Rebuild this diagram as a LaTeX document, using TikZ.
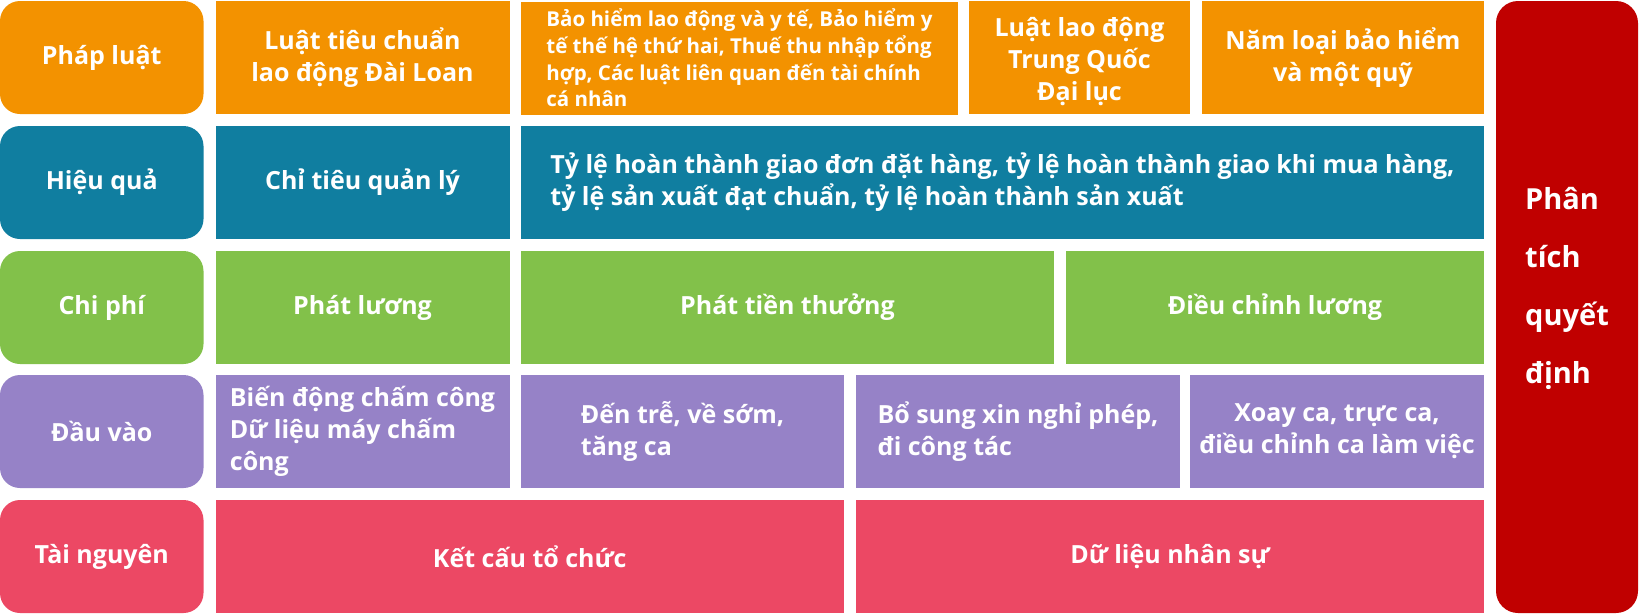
\documentclass[tikz,border=0pt]{standalone}
\usepackage{fontspec}
\setmainfont{Open Sans}
\usepackage{tikz}

\definecolor{cLaw}{RGB}{243,146,0}
\definecolor{cPerf}{RGB}{16,126,160}
\definecolor{cCost}{RGB}{130,193,74}
\definecolor{cInput}{RGB}{150,130,199}
\definecolor{cRes}{RGB}{236,72,100}
\definecolor{cDec}{RGB}{192,0,0}

\tikzset{
  cell/.style={rectangle, inner sep=0pt, text=white, minimum height=113pt,
    font=\fontsize{25}{32}\selectfont\bfseries},
  head/.style={cell, rounded corners=20pt, minimum width=203.5pt},
  small/.style={font=\fontsize{20.5}{26.7}\selectfont\bfseries},
  txt/.style={inner sep=0pt, text=white, font=\fontsize{25}{32}\selectfont\bfseries}
}

\begin{document}
\begin{tikzpicture}[x=1pt, y=-1pt]
\useasboundingbox (0,0) rectangle (1641,614);
% row 1
\node[head, fill=cLaw] (L0) at (101.75, 57.5) {Pháp luật};
\node[cell, fill=cLaw, minimum width=294pt, align=center] (L1) at (362.5, 57.5) {Luật tiêu chuẩn\\lao động Đài Loan};
\node[cell, small, fill=cLaw, minimum width=437pt, align=left] (L2) at (739.5, 58) {Bảo hiểm lao động và y tế, Bảo hiểm y\\tế thế hệ thứ hai, Thuế thu nhập tổng\\hợp, Các luật liên quan đến tài chính\\cá nhân};
\node[cell, fill=cLaw, minimum width=221pt] (L3) at (1079.5, 57.5) {};
\node[txt, align=center] (L3t) at ([yshift=-4pt]L3.center) {Luật lao động\\Trung Quốc\\Đại lục};
\node[cell, fill=cLaw, minimum width=282pt, align=center] (L4) at (1343, 57.5) {Năm loại bảo hiểm\\và một quỹ};
% row 2
\node[head, fill=cPerf] (H0) at (101.75, 182.5) {Hiệu quả};
\node[cell, fill=cPerf, minimum width=294pt] (H1) at (362.5, 182.5) {Chỉ tiêu quản lý};
\node[cell, fill=cPerf, minimum width=963pt, align=left] (H2) at (1002.5, 182.5) {Tỷ lệ hoàn thành giao đơn đặt hàng, tỷ lệ hoàn thành giao khi mua hàng,\\tỷ lệ sản xuất đạt chuẩn, tỷ lệ hoàn thành sản xuất};
% row 3
\node[head, fill=cCost] (C0) at (101.75, 307.5) {Chi phí};
\node[cell, fill=cCost, minimum width=294pt] (C1) at (362.5, 307.5) {Phát lương};
\node[cell, fill=cCost, minimum width=533pt] (C2) at (787.5, 307.5) {Phát tiền thưởng};
\node[cell, fill=cCost, minimum width=418pt] (C3) at (1275, 307.5) {Điều chỉnh lương};
% row 4
\node[head, fill=cInput] (D0) at (101.75, 431.5) {Đầu vào};
\node[cell, fill=cInput, minimum width=294pt, align=left] (D1) at (362.5, 431.5) {Biến động chấm công\\Dữ liệu máy chấm\\công};
\node[cell, fill=cInput, minimum width=323pt, align=left] (D2) at (682.5, 431.5) {Đến trễ, về sớm,\\tăng ca};
\node[cell, fill=cInput, minimum width=324pt, align=left] (D3) at (1018, 431.5) {Bổ sung xin nghỉ phép,\\đi công tác};
\node[cell, fill=cInput, minimum width=294pt, align=center] (D4) at (1337, 431.5) {Xoay ca, trực ca,\\điều chỉnh ca làm việc};
% row 5
\node[head, fill=cRes] (T0) at (101.75, 556.5) {Tài nguyên};
\node[cell, fill=cRes, minimum width=628.5pt] (T1) at (529.75, 556.5) {Kết cấu tổ chức};
\node[cell, fill=cRes, minimum width=628pt] (T2) at (1170, 556.5) {Dữ liệu nhân sự};
% decision bar
\node[cell, fill=cDec, rounded corners=22pt, minimum width=142pt, minimum height=612pt] (Q) at (1567, 307) {};
\node[txt, font=\fontsize{29}{58}\selectfont\bfseries, align=left] (Qt) at ([yshift=19pt]Q.center) {Phân\\tích\\quyết\\định};
\end{tikzpicture}
\end{document}
